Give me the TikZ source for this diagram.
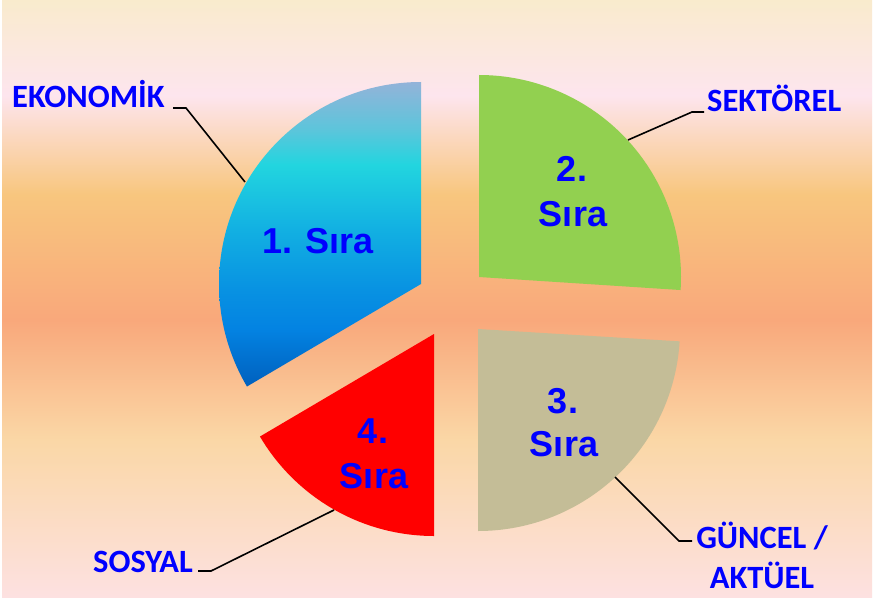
\documentclass[tikz,border=0pt]{standalone}
\usepackage{fontspec}
\newfontfamily\arialf{Liberation Sans}
\newfontfamily\calib{Carlito}
\definecolor{bgA}{HTML}{F9EBCD}
\definecolor{bgB}{HTML}{FDE5EE}
\definecolor{bgC}{HTML}{F8C67E}
\definecolor{bgD}{HTML}{F9A87B}
\definecolor{bgE}{HTML}{FAD7A6}
\definecolor{bgF}{HTML}{FDE1E1}
\definecolor{blA}{HTML}{93B3D9}
\definecolor{blB}{HTML}{5CC5DB}
\definecolor{blC}{HTML}{22D5DF}
\definecolor{blD}{HTML}{12B0E2}
\definecolor{blE}{HTML}{0892E2}
\definecolor{blF}{HTML}{0383E2}
\definecolor{blG}{HTML}{0060BE}
\definecolor{greenslice}{HTML}{92D050}
\definecolor{tanslice}{HTML}{C4BD97}
\definecolor{redslice}{HTML}{FF0000}
\definecolor{txtblue}{HTML}{0000FF}
\pgfdeclareverticalshading{bgshade}{100bp}{color(0bp)=(bgF); color(25bp)=(bgF); color(38.2bp)=(bgE); color(48.2bp)=(bgD); color(58.7bp)=(bgC); color(67bp)=(bgB); color(75bp)=(bgA); color(100bp)=(bgA)}
\pgfdeclareverticalshading{blueshade}{100bp}{color(0bp)=(blG); color(25bp)=(blG); color(34.5bp)=(blF); color(41bp)=(blE); color(50.8bp)=(blD); color(61.4bp)=(blC); color(67.2bp)=(blB); color(75bp)=(blA); color(100bp)=(blA)}
\tikzset{
  slicetext/.style={font=\arialf\bfseries\fontsize{36}{43}\selectfont, text=txtblue, inner sep=0pt, anchor=base},
  catlabel/.style={font=\calib\bfseries\fontsize{32.5}{39}\selectfont, text=txtblue, inner sep=0pt},
  conn/.style={draw=black, line width=1.6pt, line join=miter}
}
\begin{document}
\begin{tikzpicture}[x=1pt,y=1pt]
\useasboundingbox (0,0) rectangle (874,-604);
\fill[white] (0,0) rectangle (874,-604);
\shade[shading=bgshade] (2,0) rectangle (872,-597);
% slices
\shade[shading=blueshade] (421,-284) -- ++(90:202) arc[start angle=90, end angle=210.5, radius=202] -- cycle;
\fill[greenslice] (479,-277) -- ++(-3.7:202) arc[start angle=-3.7, end angle=90, radius=202] -- cycle;
\fill[tanslice] (478,-329) -- ++(270:202) arc[start angle=270, end angle=356.5, radius=202] -- cycle;
\fill[redslice] (434,-334) -- ++(210.5:202) arc[start angle=210.5, end angle=270, radius=202] -- cycle;
% slice texts
\node[slicetext] (s1) at (318,-253) {1. Sıra};
\node[slicetext] (s2a) at (572,-182) {2.};
\node[slicetext] (s2b) at (573,-226) {Sıra};
\node[slicetext] (s3a) at (563,-413) {3.};
\node[slicetext] (s3b) at (564,-456) {Sıra};
\node[slicetext] (s4a) at (373,-443) {4.};
\node[slicetext] (s4b) at (374,-488) {Sıra};
% category labels
\node[catlabel, anchor=base west] (eko) at (12,-108) {EKONOMİK};
\node[catlabel, anchor=base west] (sek) at (707,-112) {SEKTÖREL};
\node[catlabel, anchor=base east] (sos) at (193,-572) {SOSYAL};
\node[catlabel, anchor=base] (gun) at (762,-548) {GÜNCEL /};
\node[catlabel, anchor=base] (akt) at (762,-588) {AKTÜEL};
% connector points
\coordinate (ekoA) at (173,-108);
\coordinate (ekoB) at (186,-108);
\coordinate (ekoC) at (245,-182);
\coordinate (sekA) at (704,-112);
\coordinate (sekB) at (692,-112);
\coordinate (sekC) at (628,-140);
\coordinate (sosA) at (198,-571);
\coordinate (sosB) at (211,-571);
\coordinate (sosC) at (334,-510);
\coordinate (gunA) at (692,-541);
\coordinate (gunB) at (679,-541);
\coordinate (gunC) at (615,-477);
\draw[conn] (ekoA) -- (ekoB) -- (ekoC);
\draw[conn] (sekA) -- (sekB) -- (sekC);
\draw[conn] (sosA) -- (sosB) -- (sosC);
\draw[conn] (gunA) -- (gunB) -- (gunC);
\end{tikzpicture}
\end{document}
